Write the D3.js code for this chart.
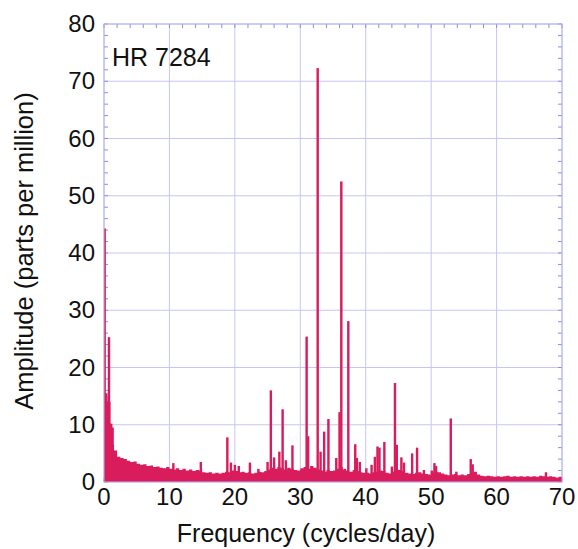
<!DOCTYPE html>
<html>
<head>
<meta charset="utf-8">
<script src="https://cdn.jsdelivr.net/npm/d3@7"></script>
<style>
  html, body { margin: 0; padding: 0; background: #fff; }
  svg text { font-family: "Liberation Sans", Arial, Helvetica, sans-serif; fill: #111; }
</style>
</head>
<body>
<svg id="chart" width="578" height="549"></svg>
<script>
// Amplitude spectrum of HR 7284 (ppm vs cycles/day)

const starName = "HR 7284";
const xTicks = [0, 10, 20, 30, 40, 50, 60, 70];
const yTicks = [0, 10, 20, 30, 40, 50, 60, 70, 80];

// Background noise level, sampled every 0.5 c/d from 0 to 70
const noiseStep = 0.5;
const noiseAmp = [
  15, 14, 9.5, 5.5, 4.4, 4.2, 4.0, 3.7, 3.5, 3.6,
  3.2, 3.0, 3.1, 2.8, 2.9, 2.6, 2.7, 2.5, 2.4, 2.6,
  2.3, 2.2, 2.4, 2.1, 2.3, 2.0, 2.2, 1.9, 2.1, 2.0,
  1.7, 1.6, 1.7, 1.5, 1.6, 1.5, 1.6, 1.8, 1.7, 2.0,
  1.9, 1.7, 1.8, 1.6, 1.7, 1.5, 1.6, 1.8, 1.7, 1.9,
  2.2, 2.5, 2.3, 2.6, 2.4, 2.2, 2.5, 2.3, 2.1, 2.0,
  2.4, 2.6, 2.3, 2.8, 2.5, 2.2, 2.0, 1.8, 2.1, 1.9,
  2.0, 2.3, 2.6, 2.2, 2.0, 1.8, 2.1, 1.9, 1.7, 1.6,
  1.6, 1.5, 1.7, 1.8, 2.0, 1.9, 1.6, 1.5, 1.8, 2.2,
  2.1, 1.9, 1.6, 1.5, 1.4, 1.6, 1.7, 1.5, 1.4, 1.3,
  1.6, 1.8, 1.7, 1.5, 1.3, 1.2, 1.3, 1.4, 1.2, 1.3,
  1.2, 1.4, 1.6, 1.8, 1.3, 1.1, 1.0, 1.1, 1.0, 0.9,
  1.0, 0.9, 1.0, 1.1, 0.9, 1.0, 0.9, 1.0, 0.9, 1.0,
  0.9, 1.0, 0.9, 1.1, 1.0, 0.9, 1.0, 0.9, 0.8, 0.9,
  0.8
];

// Individual spectral peaks: frequency (c/d) and amplitude (ppm)
const peakFreq = [
  0.1, 0.35, 0.76, 1.1, 1.35,
  10.6, 14.8, 18.85, 19.4, 20.0, 20.6, 22.3, 23.6,
  25.0, 25.5, 26.0, 26.8, 27.3, 27.8, 28.8, 30.97, 31.2,
  32.66, 33.1, 33.65, 34.3, 35.5, 36.0, 36.27, 36.8, 37.34,
  38.4, 38.65, 39.1, 40.1, 40.9, 41.4, 41.8, 42.1, 42.85,
  44.0, 44.47, 44.75, 45.45, 45.85, 47.1, 47.85, 48.9,
  50.1, 50.5, 50.75, 53.0, 53.85, 56.05, 56.35, 67.55
];
const peakAmp = [
  44.3, 15.5, 25.3, 10.2, 6.5,
  3.3, 3.5, 7.8, 3.4, 3.0, 2.8, 3.4, 2.3,
  3.5, 16.0, 4.3, 5.3, 12.7, 3.8, 6.4, 25.4, 8.0,
  72.3, 5.3, 8.8, 11.0, 4.2, 12.2, 52.5, 2.3, 28.1,
  6.6, 4.2, 3.5, 2.4, 3.0, 4.4, 6.2, 6.0, 7.0,
  2.7, 17.3, 6.5, 4.3, 3.4, 5.0, 6.0, 2.1,
  2.0, 3.3, 2.8, 11.1, 1.8, 4.0, 3.1, 1.7
];

const margin = { left: 104, right: 16, top: 24, bottom: 67 };
const W = 578, H = 549;
const plotW = W - margin.left - margin.right;
const plotH = H - margin.top - margin.bottom;

const svg = d3.select("#chart");
const g = svg.append("g").attr("transform", `translate(${margin.left},${margin.top})`);

const x = d3.scaleLinear().domain([0, 70]).range([0, plotW]);
const y = d3.scaleLinear().domain([0, 80]).range([plotH, 0]);

const gridColor = "#c6c6f4";
const tickColor = "#8a8ae6";
const specColor = "#d91d5c";

// grid
g.append("g").selectAll("line.v").data(xTicks).join("line")
  .attr("x1", d => x(d)).attr("x2", d => x(d))
  .attr("y1", 0).attr("y2", plotH)
  .attr("stroke", gridColor).attr("stroke-width", 1);
g.append("g").selectAll("line.h").data(yTicks).join("line")
  .attr("x1", 0).attr("x2", plotW)
  .attr("y1", d => y(d)).attr("y2", d => y(d))
  .attr("stroke", gridColor).attr("stroke-width", 1);

// minor ticks every 2 units, pointing inward on all sides
const minorX = d3.range(0, 70.001, 2);
const minorY = d3.range(0, 80.001, 2);
const tl = 4;
const ticks = g.append("g").attr("stroke", tickColor).attr("stroke-width", 1);
ticks.selectAll("line.t").data(minorX).join("line")
  .attr("x1", d => x(d)).attr("x2", d => x(d)).attr("y1", 0).attr("y2", tl);
ticks.selectAll("line.b").data(minorX).join("line")
  .attr("x1", d => x(d)).attr("x2", d => x(d)).attr("y1", plotH).attr("y2", plotH - tl);
ticks.selectAll("line.l").data(minorY).join("line")
  .attr("x1", 0).attr("x2", tl).attr("y1", d => y(d)).attr("y2", d => y(d));
ticks.selectAll("line.r").data(minorY).join("line")
  .attr("x1", plotW).attr("x2", plotW - tl).attr("y1", d => y(d)).attr("y2", d => y(d));

// spectrum
const clipId = "plotclip";
svg.append("defs").append("clipPath").attr("id", clipId)
  .append("rect").attr("width", plotW).attr("height", plotH);
const spec = g.append("g").attr("clip-path", `url(#${clipId})`);

const noise = noiseAmp.map((a, i) => ({ f: i * noiseStep, a }));
spec.append("path")
  .datum(noise)
  .attr("fill", specColor)
  .attr("d", d3.area().curve(d3.curveStepAfter)
    .x(d => x(d.f)).y0(y(0)).y1(d => y(d.a)));

const peaks = peakFreq.map((f, i) => ({ f, a: peakAmp[i] }));
const bw = x(0.37) - x(0);
spec.selectAll("rect.pk").data(peaks).join("rect")
  .attr("x", d => x(d.f) - bw / 2)
  .attr("width", bw)
  .attr("y", d => y(d.a))
  .attr("height", d => y(0) - y(d.a))
  .attr("fill", specColor);

// frame
g.append("rect").attr("width", plotW).attr("height", plotH)
  .attr("fill", "none").attr("stroke", "#b4b4f0").attr("stroke-width", 1);

// tick labels
g.append("g").selectAll("text").data(xTicks).join("text")
  .attr("x", d => x(d)).attr("y", plotH + 23)
  .attr("text-anchor", "middle")
  .style("font-size", "24px")
  .text(d => d);
g.append("g").selectAll("text").data(yTicks).join("text")
  .attr("x", -9).attr("y", d => y(d) + 8)
  .attr("text-anchor", "end")
  .style("font-size", "24px")
  .text(d => d);

// titles
svg.append("text")
  .attr("x", 306).attr("y", 542)
  .attr("text-anchor", "middle")
  .style("font-size", "25px")
  .text("Frequency (cycles/day)");
svg.append("text")
  .attr("transform", `translate(33,${margin.top + plotH / 2 - 2}) rotate(-90)`)
  .attr("text-anchor", "middle")
  .style("font-size", "25.5px")
  .text("Amplitude (parts per million)");

g.append("text")
  .attr("x", 8).attr("y", 42)
  .style("font-size", "25px")
  .text(starName);
</script>
</body>
</html>
